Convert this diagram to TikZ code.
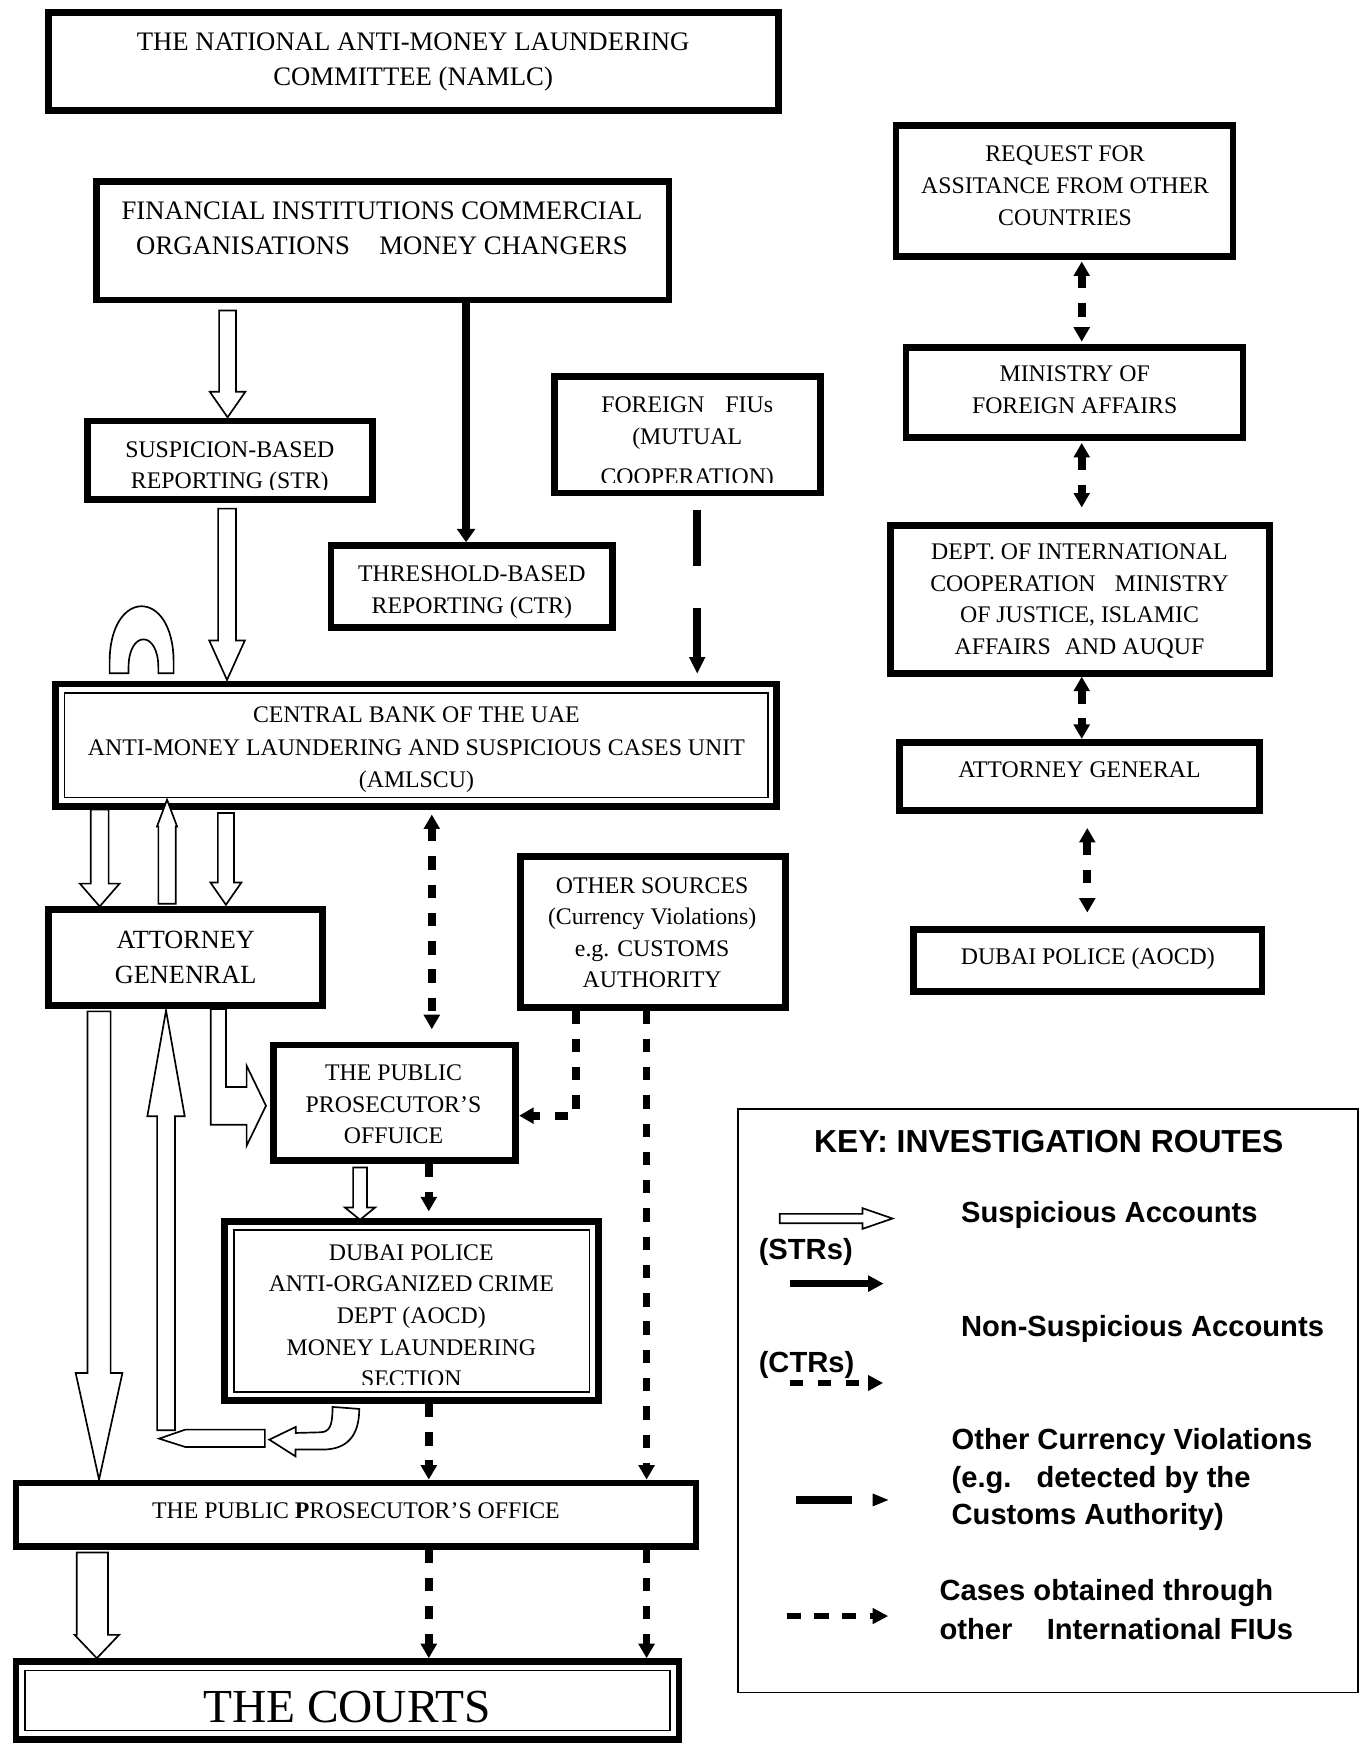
\documentclass[tikz,border=0pt]{standalone}
\usepackage{fontspec}
\setmainfont{Liberation Serif}
\newfontfamily\keyfont{Liberation Sans}
\usetikzlibrary{arrows.meta}
\newcommand\tbx[6][]{\node[tbox,#1,anchor=north west,minimum width={(#5-#3-6)*0.5pt},minimum height={(#6-#4-6)*0.5pt}] (#2) at (#3,#4) {};}
\newcommand\dbl[1]{\draw[line width=0.75pt] ([shift={(11,11)}]#1.north west) rectangle ([shift={(-11,-11)}]#1.south east);}
\newcommand\varw[6]{\draw[hollow] ({#1-#2},#4) -- ({#1+#2},#4) -- ({#1+#2},#5) -- ({#1+#3},#5) -- (#1,#6) -- ({#1-#3},#5) -- ({#1-#2},#5) -- cycle;}
\begin{document}
\begin{tikzpicture}[x=0.5pt,y=-0.5pt,
  tbox/.style={draw,line width=3pt,inner sep=0pt},
  tx/.style={align=center,inner sep=0pt,font=\fontsize{10.7}{14.3}\selectfont,execute at begin node=\strut,execute at end node=\strut},
  ml/.style={yshift=-1.75pt},
  hollow/.style={draw,line width=0.75pt,fill=white,line join=miter},
  dsh/.style={line width=3.5pt,dash pattern=on 6pt off 6.7pt},
  dtip/.style={-{Triangle[length=6.5pt,width=7pt]}},
  dtiptwo/.style={{Triangle[length=6.5pt,width=7pt]}-{Triangle[length=6.5pt,width=7pt]}},
  sarrow/.style={line width=3.4pt,-{Triangle[length=6pt,width=8pt]}},
  kt/.style={anchor=base west,inner sep=0pt,font=\keyfont\bfseries\fontsize{13.1}{16}\selectfont}]
\useasboundingbox (0,0) rectangle (1228,1568);

% ---------- boxes (left) ----------
\tbx{namlc}{40.5}{8}{702.5}{102.5}
\node[tx,ml,font=\fontsize{12}{15.8}\selectfont] (namlc-t) at (371.2,54.3) {THE NATIONAL ANTI-MONEY LAUNDERING\\COMMITTEE (NAMLC)};

\tbx{fin}{84}{160}{604}{272.5}
\node[tx,ml,font=\fontsize{12}{15.4}\selectfont] (fin-t) at (343.3,206.2) {FINANCIAL INSTITUTIONS COMMERCIAL\\ORGANISATIONS\hspace{1.1em}MONEY CHANGERS};

\tbx{susp}{75.4}{375.2}{337.7}{452.1}
\begin{scope}
\clip (81,381) rectangle (332,439.5);
\node[tx,ml] (susp-t) at (206.5,418.7) {SUSPICION-BASED\\REPORTING (STR)};
\end{scope}

\tbx{fiu}{495.4}{335.4}{740}{446}
\begin{scope}
\clip (501,341) rectangle (734,433.5);
\node[tx,ml] (fiu-t) at (617.5,396.7) {FOREIGN\hspace{0.88em}FIUs\\(MUTUAL\\[3.5pt]COOPERATION)};
\end{scope}

\tbx{thr}{294.4}{487.2}{553.5}{566.6}
\node[tx,ml] (thr-t) at (424,530.6) {THRESHOLD-BASED\\REPORTING (CTR)};

\tbx{cb}{47}{611.5}{701}{727.5}
\dbl{cb}
\node[tx,ml,font=\fontsize{10.7}{14.7}\selectfont] (cb-t) at (374.2,672.4) {CENTRAL BANK OF THE UAE\\ANTI-MONEY LAUNDERING AND SUSPICIOUS CASES UNIT\\(AMLSCU)};

\tbx{agl}{40.4}{814}{292.9}{906.7}
\node[tx,ml,font=\fontsize{11.8}{15.6}\selectfont] (agl-t) at (166.9,861.6) {ATTORNEY\\GENENRAL};

\tbx{oth}{465}{766.6}{708.6}{908}
\node[tx,ml,font=\fontsize{10.7}{14.1}\selectfont] (oth-t) at (586,838.6) {OTHER SOURCES\\(Currency Violations)\\e.g. CUSTOMS\\AUTHORITY};

\tbx{ppo}{243}{936}{466.5}{1046}
\node[tx,ml,font=\fontsize{10.7}{14.2}\selectfont] (ppo-t) at (353.6,993.1) {THE PUBLIC\\PROSECUTOR’S\\OFFUICE};

\tbx{dp}{199}{1094.5}{540.6}{1261.5}
\dbl{dp}
\begin{scope}
\clip (211,1106) rectangle (529,1244.5);
\node[tx,ml,font=\fontsize{10.7}{14.2}\selectfont] (dp-t) at (369.6,1183) {DUBAI POLICE\\ANTI-ORGANIZED CRIME\\DEPT (AOCD)\\MONEY LAUNDERING\\SECTION};
\end{scope}

\tbx{ppob}{11.5}{1329.5}{628.4}{1392.4}
\node[tx] (ppob-t) at (319.8,1358.4) {THE PUBLIC \textbf{P}ROSECUTOR’S OFFICE};

\tbx{courts}{11.5}{1490}{613}{1566}
\dbl{courts}
\node[tx,font=\fontsize{21.3}{25}\selectfont] (courts-t) at (312,1537.7) {THE COURTS};

% ---------- boxes (right) ----------
\tbx{req}{802}{110}{1111}{233.6}
\node[tx,ml] (req-t) at (957,167.8) {REQUEST FOR\\ASSITANCE FROM OTHER\\COUNTRIES};
\tbx{mfa}{811}{309}{1120}{396}
\node[tx,ml] (mfa-t) at (965.7,350.9) {MINISTRY OF\\FOREIGN AFFAIRS};
\tbx{dept}{797}{469}{1143.6}{608}
\node[tx,ml] (dept-t) at (970,539.1) {DEPT. OF INTERNATIONAL\\COOPERATION\hspace{0.81em}MINISTRY\\OF JUSTICE, ISLAMIC\\AFFAIRS\hspace{0.59em}AND AUQUF};
\tbx{agr}{805.5}{664}{1135}{731}
\node[tx] (agr-t) at (970,693.1) {ATTORNEY GENERAL};
\tbx{dpr}{818}{832}{1137}{894}
\node[tx] (dpr-t) at (977.5,860.8) {DUBAI POLICE (AOCD)};

% ---------- black connectors ----------
\draw[sarrow] (418.8,0 |- fin.south) -- (418.8,0 |- thr.north);
\coordinate (fiu-a) at (626.5,508.5);
\coordinate (fiu-b) at (626.5,546.5);
\draw[line width=3.5pt,shorten <=6pt] (626.5,0 |- fiu.south) -- (fiu-a);
\draw[line width=3.5pt,-{Triangle[length=7.5pt,width=6.75pt]},shorten >=3pt] (fiu-b) -- (626.5,0 |- cb.north);
\draw[dsh,dtiptwo,shorten <=2.2pt,shorten >=5.6pt] (388,0 |- cb.south) -- (388,0 |- ppo.north);
\draw[dsh,dtip] (517.6,0 |- oth.south) -- (517.6,1002.5) -- (ppo.east |- 517.6,1002.5);
\draw[dsh,dtip] (581,0 |- oth.south) -- (581,0 |- ppob.north);
\draw[dsh,dtip,shorten >=3pt] (385.3,0 |- ppo.south) -- (385.3,0 |- dp.north);
\draw[dsh,dtip] (385.3,0 |- dp.south) -- (385.3,0 |- ppob.north);
\draw[dsh,dtip] (385.3,0 |- ppob.south) -- (385.3,0 |- courts.north);
\draw[dsh,dtip] (581,0 |- ppob.south) -- (581,0 |- courts.north);

\draw[dsh,dtiptwo,shorten <=0.7pt,shorten >=1pt] (972,0 |- req.south) -- (972,0 |- mfa.north);
\draw[dsh,dtiptwo,shorten <=1pt,shorten >=6.5pt] (972,0 |- mfa.south) -- (972,0 |- dept.north);
\draw[dsh,dtiptwo] (972,0 |- dept.south) -- (972,0 |- agr.north);
\draw[dsh,dtiptwo,shorten <=6.5pt,shorten >=6pt] (977,0 |- agr.south) -- (977,0 |- dpr.north);

% ---------- hollow block arrows ----------
\varw{204.5}{7.6}{16}{279}{352}{375}
\varw{204}{8}{16}{457}{575.5}{611}
\draw[hollow] (98.5,605) -- (98.5,595) .. controls (98.5,528) and (156,528) .. (156,595) -- (156,605) -- (142.3,605) -- (142.3,600) .. controls (142.3,566) and (115.5,566) .. (115.5,600) -- (115.5,605) -- cycle;
\varw{89.6}{8}{17.8}{727.5}{794}{814.5}
\varw{150.1}{7.8}{9}{812}{742.6}{718.6}
\varw{203}{7.2}{13.9}{730.6}{793}{813}
\varw{89}{10.4}{21}{908.8}{1233.7}{1329.5}
\varw{149.2}{8}{16.8}{1285.2}{1003}{908}
\draw[hollow] (189.3,906.7) -- (203,906.7) -- (203,976.8) -- (221.6,976.8) -- (221.6,957.6) -- (239,993.6) -- (221.6,1029.5) -- (221.6,1010.6) -- (189.3,1010.6) -- cycle;
\varw{323.5}{6.2}{13.6}{1049}{1085}{1096}
\draw[hollow] (143,1292.7) -- (166.5,1284.6) -- (238,1284.6) -- (238,1300.2) -- (166.5,1300.2) -- cycle;
\draw[hollow] (242,1293.6) -- (265.7,1282.2) -- (265.7,1287.6) -- (288,1287) .. controls (296,1286.5) and (298.8,1282) .. (298.8,1264.2) -- (322.8,1266) .. controls (322.8,1290) and (312,1302.5) .. (290,1302.5) -- (265.5,1302.5) -- (265.5,1308.6) -- cycle;
\draw[hollow] (69,1395) -- (97,1395) -- (97,1469) -- (107,1469) -- (87,1490) -- (67,1469) -- (69,1469) -- cycle;

% ---------- key ----------
\node[draw,line width=0.75pt,inner sep=0pt,anchor=north west,minimum width={(1221-662.5-1.5)*0.5pt},minimum height={(1521.5-995.7-1.5)*0.5pt}] (key) at (662.5,995.7) {};
\node[kt,anchor=base,font=\keyfont\bfseries\fontsize{14.3}{17}\selectfont] (key-t) at (942.4,1035.5) {KEY: INVESTIGATION ROUTES};
\draw[hollow] (700.7,1090.7) -- (775,1090.7) -- (775,1085.6) -- (802,1094.9) -- (775,1104.2) -- (775,1099.1) -- (700.7,1099.1) -- cycle;
\node[kt] (k1) at (863.2,1098.7) {Suspicious Accounts};
\node[kt] (k1b) at (681.4,1132) {(STRs)};
\draw[line width=3.3pt,-{Triangle[length=7pt,width=7pt]}] (709.7,1153.4) -- (794,1153.4);
\node[kt] (k2) at (863.2,1201) {Non-Suspicious Accounts};
\node[kt] (k2b) at (681.4,1233.7) {(CTRs)};
\draw[line width=3pt,dash pattern=on 6pt off 6.65pt,-{Triangle[length=6.75pt,width=6.75pt]}] (709.7,1242.7) -- (793.5,1242.7);
\node[kt] (k3) at (854.7,1302.5) {Other Currency Violations};
\node[kt] (k3b) at (854.7,1336.9) {(e.g.\hspace{0.86em}detected by the};
\node[kt] (k3c) at (854.7,1369.6) {Customs Authority)};
\draw[line width=3.4pt] (715,1347.8) -- (765.4,1347.8);
\fill (784.2,1342) -- (798.2,1347.8) -- (784.2,1353.6) -- cycle;
\node[kt] (k4) at (843.8,1438.4) {Cases obtained through};
\node[kt] (k4b) at (843.8,1472.8) {other\hspace{1.18em}International FIUs};
\draw[line width=3pt,dash pattern=on 6.4pt off 6pt,-{Triangle[length=7pt,width=6.75pt]}] (706.9,1452.1) -- (798.2,1452.1);
\end{tikzpicture}
\end{document}
